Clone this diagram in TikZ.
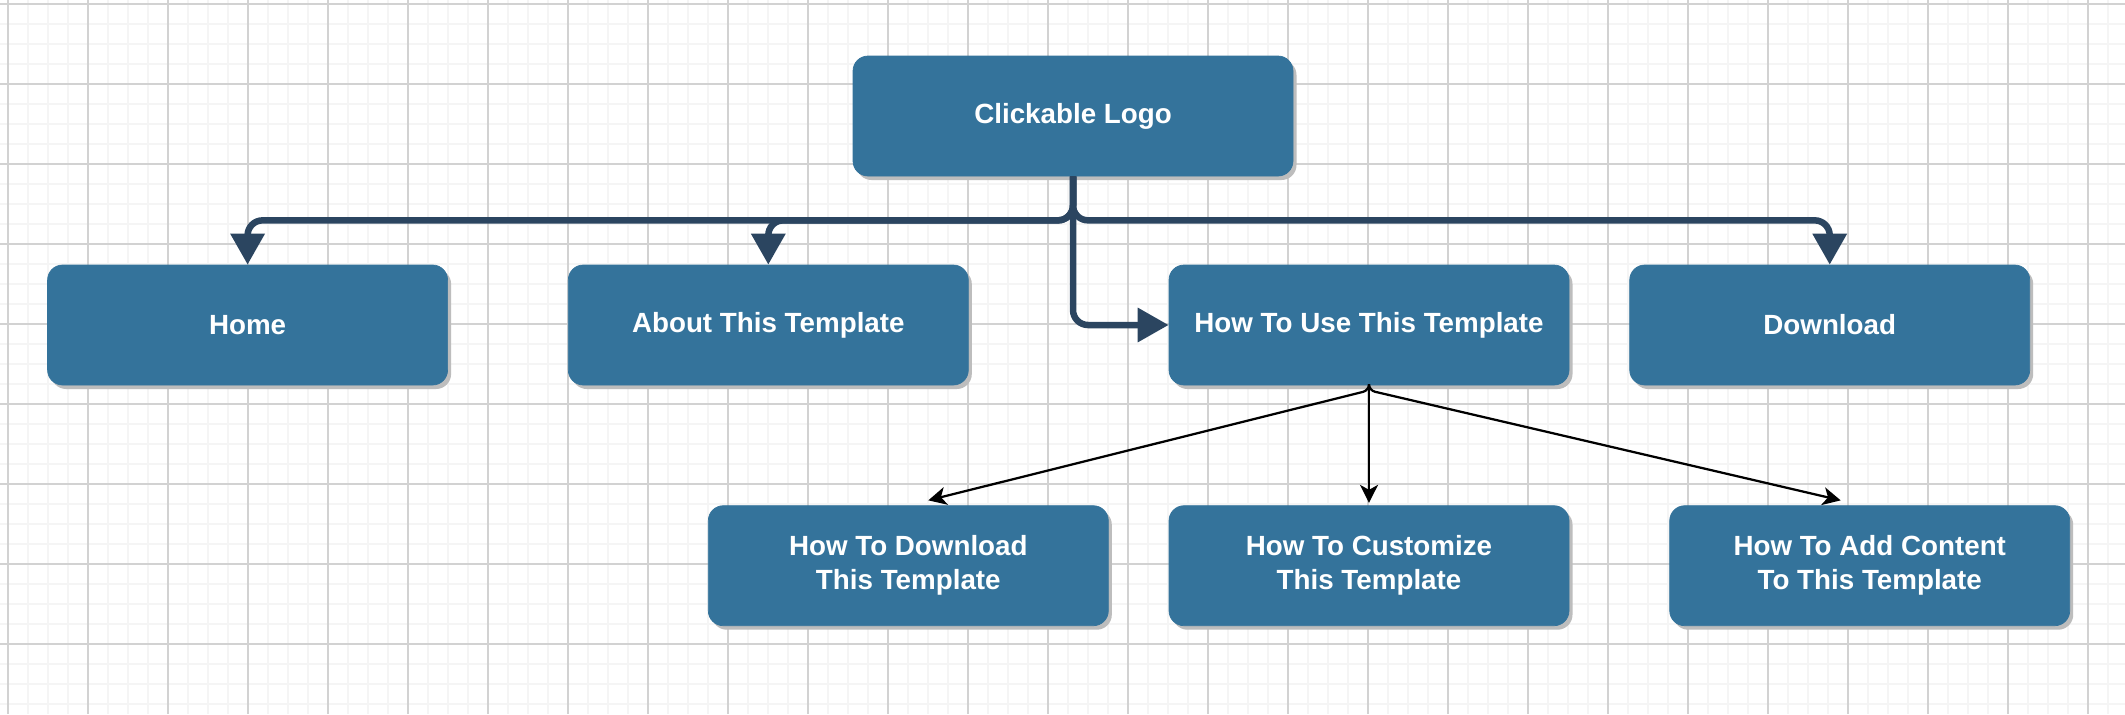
\documentclass[tikz,border=0pt]{standalone}
\usepackage{fontspec}
\setmainfont{Liberation Sans}
\usetikzlibrary{positioning,arrows.meta,shadows}
\definecolor{boxblue}{HTML}{34739B}
\definecolor{busnavy}{HTML}{2B4560}
\definecolor{gridminor}{HTML}{F5F5F5}
\definecolor{gridmajor}{HTML}{D2D2D2}
\begin{document}
\begin{tikzpicture}[
    page/.style={rectangle, draw, fill=boxblue, draw=boxblue, text=white, font=\bfseries\fontsize{15.8}{19.3}\selectfont, align=center, rounded corners=0.3cm, minimum width=8cm, minimum height=2.4cm, drop shadow={shadow xshift=0.07cm, shadow yshift=-0.08cm, fill=black!26, opacity=1}},
    bus/.style={draw=busnavy, line width=0.13cm, rounded corners=0.3cm, -{Triangle[length=0.62cm, width=0.66cm]}},
    link/.style={draw=black, line width=0.045cm, rounded corners=0.12cm, -{Stealth[length=0.36cm, width=0.36cm, inset=0.1cm]}},
    minorline/.style={draw=gridminor, line width=0.04cm},
    majorline/.style={draw=gridmajor, line width=0.025cm}
]
    \useasboundingbox (0,0) rectangle (42.5,-14.28);
    \fill[white] (0,0) rectangle (42.5,-14.28);
    % background grid
    \foreach \gx in {0.16,0.56,...,42.5} \draw[minorline] (\gx,0) -- (\gx,-14.28);
    \foreach \gy in {-0.08,-0.48,...,-14.28} \draw[minorline] (0,\gy) -- (42.5,\gy);
    \foreach \gx in {0.16,1.76,...,42.5} \draw[majorline] (\gx,0) -- (\gx,-14.28);
    \foreach \gy in {-0.08,-1.68,...,-14.28} \draw[majorline] (0,\gy) -- (42.5,\gy);

    \node [page, minimum width=8.8cm] (logo) at (21.46,-2.32) {Clickable Logo};
    \node [page] (howuse) at (27.38,-6.5) {How To Use This Template};
    \node [page, left=4cm of howuse] (about) {About This Template};
    \node [page, left=2.4cm of about] (home) {Home};
    \node [page, right=1.2cm of howuse] (download) {Download};
    \node [page, below=2.4cm of howuse] (customize) {How To Customize\\This Template};
    \node [page, left=1.2cm of customize] (howdownload) {How To Download\\This Template};
    \node [page, right=2cm of customize] (addcontent) {How To Add Content\\To This Template};

    \draw [bus] (logo.south) -- ++(0,-0.88) -| (home.north);
    \draw [bus] (logo.south) -- ++(0,-0.88) -| (about.north);
    \draw [bus] (logo.south) |- (howuse.west);
    \draw [bus] (logo.south) -- ++(0,-0.88) -| (download.north);

    \draw [link] ([yshift=-0.04cm]howuse.south) -- ++(0,-0.06) -- ([xshift=0.4cm, yshift=0.1cm]howdownload.north);
    \draw [link] ([yshift=-0.04cm]howuse.south) -- ([yshift=0.05cm]customize.north);
    \draw [link] ([yshift=-0.04cm]howuse.south) -- ++(0,-0.06) -- ([xshift=-0.58cm, yshift=0.1cm]addcontent.north);
\end{tikzpicture}
\end{document}
